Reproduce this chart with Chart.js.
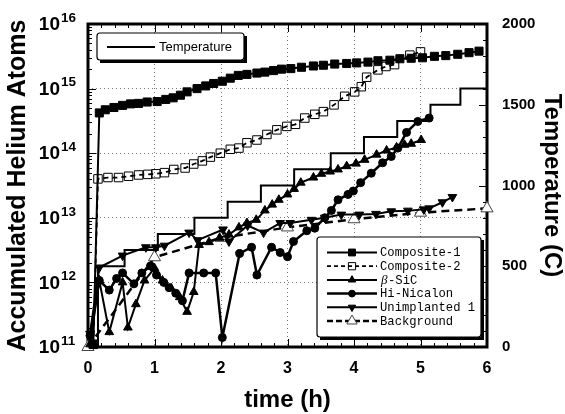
<!DOCTYPE html>
<html><head><meta charset="utf-8">
<script src="https://cdn.jsdelivr.net/npm/chart.js@4.4.0/dist/chart.umd.min.js"></script>
<style>html,body{margin:0;padding:0;background:#fff;}canvas{display:block;}</style>
</head><body>
<canvas id="c" width="565" height="414" style="width:565px;height:414px"></canvas>
<script>
// ---------- data ----------
const xTickValues = [0, 1, 2, 3, 4, 5, 6];
const leftTickValues = [1e11, 1e12, 1e13, 1e14, 1e15, 1e16];
const rightTickValues = [0, 500, 1000, 1500, 2000];

const tempTime = [0, 0.15, 0.55, 1.05, 1.6, 2.1, 2.6, 3.1, 3.65, 4.15, 4.65, 5.15, 5.6, 6.0];
const tempC    = [0, 500, 600, 700, 800, 900, 1000, 1100, 1200, 1300, 1400, 1500, 1600, 1600];

const c1Time = [0.08,0.17,0.26,0.39,0.52,0.64,0.76,0.89,1.04,1.17,1.28,1.39,1.49,1.64,1.77,1.89,2.02,2.14,2.26,2.39,2.54,2.66,2.79,2.91,3.05,3.21,3.39,3.54,3.71,3.89,4.04,4.21,4.36,4.54,4.69,4.86,5.03,5.21,5.38,5.56,5.73,5.88];
const c1Val  = [1.1e11,4.2e14,4.7e14,5.1e14,5.5e14,5.8e14,5.9e14,6.2e14,6.3e14,6.8e14,7.2e14,7.9e14,8.9e14,1.0e15,1.1e15,1.2e15,1.3e15,1.45e15,1.6e15,1.66e15,1.74e15,1.8e15,1.9e15,2.0e15,2.04e15,2.14e15,2.24e15,2.3e15,2.4e15,2.45e15,2.5e15,2.57e15,2.7e15,2.75e15,2.9e15,2.95e15,3.0e15,3.16e15,3.24e15,3.4e15,3.6e15,3.8e15];

const c2Time = [0.08,0.15,0.30,0.46,0.61,0.76,0.90,1.02,1.15,1.29,1.46,1.59,1.72,1.84,1.99,2.14,2.27,2.39,2.54,2.69,2.84,2.99,3.12,3.26,3.41,3.54,3.70,3.86,4.01,4.11,4.19,4.36,4.48,4.61,4.84,5.00];
const c2Val  = [1.1e11,4.0e13,4.2e13,4.2e13,4.4e13,4.6e13,4.7e13,4.8e13,5.0e13,5.6e13,5.9e13,6.8e13,7.6e13,8.7e13,1.0e14,1.15e14,1.2e14,1.45e14,1.6e14,1.95e14,2.3e14,2.6e14,2.8e14,3.5e14,4.0e14,4.4e14,5.6e14,7.6e14,8.9e14,1.07e15,1.5e15,1.95e15,2.2e15,2.35e15,3.3e15,3.7e15];

const sicTime = [0.03,0.17,0.32,0.52,0.60,0.72,0.85,1.0,1.12,1.25,1.38,1.49,1.59,1.67,1.82,1.98,2.12,2.27,2.39,2.53,2.66,2.77,2.87,3.0,3.1,3.2,3.39,3.51,3.64,3.76,3.89,4.03,4.16,4.34,4.49,4.64,4.76,4.86,5.01];
const sicVal  = [1.1e11,1.07e12,1.7e11,1.0e12,2.0e11,4.6e11,1.07e12,1.66e12,1.07e12,8.1e11,5.9e11,3.5e11,7.1e11,3.8e12,4.2e12,4.9e12,5.5e12,7.1e12,8.3e12,9.3e12,1.3e13,1.6e13,1.9e13,2.3e13,2.8e13,3.5e13,4.2e13,4.8e13,5.2e13,5.6e13,6.3e13,6.9e13,7.9e13,9.5e13,1.1e14,1.23e14,1.35e14,1.4e14,1.6e14];

const hnTime = [0.03,0.17,0.32,0.43,0.52,0.69,0.81,0.94,1.03,1.14,1.22,1.32,1.42,1.52,1.74,1.92,2.02,2.28,2.46,2.54,2.76,2.89,3.0,3.09,3.29,3.41,3.56,3.66,3.76,3.91,3.99,4.1,4.26,4.43,4.56,4.66,4.79,4.96,5.13];
const hnVal  = [1.5e11,1.07e12,7.6e11,1.15e12,1.4e12,9.5e11,1.4e12,1.8e12,1.3e12,1.0e12,8.3e11,6.8e11,5.2e11,1.4e12,1.4e12,1.4e12,1.4e11,2.8e12,3.5e12,1.3e12,3.5e12,2.9e12,2.5e12,4.3e12,6.3e12,6.9e12,1.0e13,1.3e13,1.9e13,2.3e13,2.6e13,3.5e13,4.9e13,7.1e13,8.9e13,1.2e14,2.1e14,3.1e14,3.5e14];

const unTime = [0.03,0.17,0.52,0.87,1.02,1.15,1.52,1.65,2.03,2.12,2.4,2.64,2.89,3.04,3.36,3.56,3.81,4.08,4.33,4.56,4.81,5.05,5.13,5.33,5.48];
const unVal  = [1.6e11,1.7e12,2.6e12,3.5e12,3.5e12,3.7e12,5.9e12,4.5e12,6.6e12,4.3e12,7.6e12,5.9e12,8.3e12,8.3e12,9.3e12,1.0e13,1.12e13,1.12e13,1.15e13,1.26e13,1.29e13,1.35e13,1.4e13,1.74e13,2.1e13];

const bgTime = [0, 1, 2, 3, 4, 5, 6];
const bgVal  = [1e11, 2.45e12, 4.9e12, 7.1e12, 9.5e12, 1.2e13, 1.4e13];

// ---------- chart ----------
const xy = (ts, vs) => ts.map((t, i) => ({x: t, y: vs[i]}));
const SANS = '"Liberation Sans", Arial, sans-serif';
const MONO = '"Liberation Mono", "DejaVu Sans Mono", monospace';

function series(label, ts, vs, o) {
  return Object.assign({
    label, data: xy(ts, vs), yAxisID: 'y', borderColor: '#000', borderWidth: 2,
    pointBorderColor: '#000', pointBackgroundColor: '#000', pointBorderWidth: 1,
    pointRotation: 0, fill: false, tension: 0, clip: false
  }, o);
}

const datasets = [
  series('Composite-1', c1Time, c1Val, {pointStyle: 'rect', pointRadius: 5.7}),
  series('Composite-2', c2Time, c2Val, {pointStyle: 'rect', pointRadius: 6, borderDash: [5, 4], borderWidth: 1.8,
    pointBackgroundColor: 'rgba(0,0,0,0)', pointBorderWidth: 1}),
  series('β-SiC', sicTime, sicVal, {pointStyle: 'triangle', pointRadius: 5}),
  series('Hi-Nicalon', hnTime, hnVal, {pointStyle: 'circle', pointRadius: 4, borderWidth: 2.5}),
  series('Unimplanted 1', unTime, unVal, {pointStyle: 'triangle', pointRadius: 5, pointRotation: 180}),
  series('Background', bgTime, bgVal, {pointStyle: 'triangle', pointRadius: 7, borderDash: [8, 5], borderWidth: 2.5,
    pointBackgroundColor: '#fff', pointBorderColor: '#444', pointBorderWidth: 1}),
  {label: 'Temperature', data: xy(tempTime, tempC), yAxisID: 'y2', borderColor: '#000', borderWidth: 2,
    pointRadius: 0, stepped: 'before', fill: false, clip: false}
];

function boxShadow(ctx, x1, y1, x2, y2) {
  ctx.fillStyle = '#fff';
  ctx.fillRect(x1, y1, x2 - x1, y2 - y1);
  ctx.fillStyle = '#000';
  ctx.fillRect(x2, y1 + 3, 3, y2 - y1);
  ctx.fillRect(x1 + 3, y2, x2 - x1, 3);
  ctx.strokeStyle = '#000';
  ctx.lineWidth = 1.2;
  ctx.beginPath();
  if (ctx.roundRect) ctx.roundRect(x1, y1, x2 - x1, y2 - y1, 3); else ctx.rect(x1, y1, x2 - x1, y2 - y1);
  ctx.stroke();
}

const decor = {
  id: 'decor',
  beforeDatasetsDraw(chart) {
    const {ctx, chartArea: a, scales} = chart;
    ctx.save();
    ctx.strokeStyle = '#000';
    ctx.lineWidth = 1;
    ctx.beginPath();
    for (let d = 11; d < 16; d++) for (let k = 1; k <= 9; k++) {
      const y = Math.round(scales.y.getPixelForValue(k * Math.pow(10, d))) + 0.5;
      const len = k === 1 ? 8 : 4;
      ctx.moveTo(a.left, y); ctx.lineTo(a.left + len, y);
    }
    for (let v = 100; v < 2000; v += 100) {
      const y = Math.round(scales.y2.getPixelForValue(v)) + 0.5;
      const len = v % 500 === 0 ? 8 : 4;
      ctx.moveTo(a.right, y); ctx.lineTo(a.right - len, y);
    }
    for (let i = 1; i < 30; i++) {
      const x = Math.round(scales.x.getPixelForValue(i * 0.2)) + 0.5;
      const len = i % 5 === 0 ? 8 : 4;
      ctx.moveTo(x, a.bottom); ctx.lineTo(x, a.bottom - len);
      ctx.moveTo(x, a.top); ctx.lineTo(x, a.top + len);
    }
    ctx.stroke();
    ctx.lineWidth = 3;
    ctx.strokeRect(a.left, a.top, a.right - a.left, a.bottom - a.top);
    ctx.restore();
  },
  afterDatasetsDraw(chart) {
    const {ctx} = chart;
    ctx.save();
    // Temperature legend
    boxShadow(ctx, 97, 33, 244, 60);
    const t = chart.data.datasets.find(d => d.yAxisID === 'y2');
    ctx.strokeStyle = '#000'; ctx.lineWidth = t.borderWidth;
    ctx.beginPath(); ctx.moveTo(107, 47); ctx.lineTo(155, 47); ctx.stroke();
    ctx.fillStyle = '#000';
    ctx.font = '13px "Liberation Sans Narrow", ' + SANS;
    ctx.textAlign = 'left'; ctx.textBaseline = 'middle';
    ctx.fillText(t.label, 159, 47.5);

    // sample legend
    boxShadow(ctx, 317, 237, 481, 337);
    const ents = chart.data.datasets.filter(d => d.yAxisID === 'y');
    ents.forEach((d, i) => {
      const y = 252.5 + i * 13.7;
      ctx.save();
      ctx.strokeStyle = '#000';
      ctx.lineWidth = d.borderWidth;
      ctx.setLineDash(d.borderDash ? [4, 3] : []);
      if (d.label === 'Background') ctx.setLineDash([6, 3]);
      ctx.beginPath(); ctx.moveTo(327, y); ctx.lineTo(377, y); ctx.stroke();
      ctx.setLineDash([]);
      ctx.fillStyle = d.pointBackgroundColor;
      ctx.strokeStyle = d.pointBorderColor;
      ctx.lineWidth = d.pointBorderWidth;
      Chart.helpers.drawPoint(ctx, {pointStyle: d.pointStyle, radius: d.pointRadius * 0.85,
        rotation: d.pointRotation || 0, borderWidth: d.pointBorderWidth}, 352, y);
      ctx.restore();
      ctx.fillStyle = '#000';
      ctx.textAlign = 'left'; ctx.textBaseline = 'middle';
      if (d.label.startsWith('β')) {
        ctx.font = 'italic 13px "Liberation Serif", serif';
        ctx.fillText('β', 381, y + 0.5);
        ctx.font = '12.2px ' + MONO;
        ctx.fillText(d.label.slice(1), 388, y + 0.5);
      } else {
        ctx.font = '12.2px ' + MONO;
        ctx.fillText(d.label, 380, y + 0.5);
      }
    });
    ctx.restore();
  },
  afterDraw(chart) {
    const {ctx, scales} = chart;
    const s = scales.y;
    ctx.save();
    ctx.fillStyle = '#000';
    s.ticks.forEach(tk => {
      const y = s.getPixelForValue(tk.value);
      const e = Math.round(Math.log10(tk.value));
      ctx.font = 'bold 19px ' + SANS;
      ctx.textAlign = 'right'; ctx.textBaseline = 'middle';
      ctx.fillText('10', 60, y + 1);
      ctx.font = 'bold 13.5px ' + SANS;
      ctx.textAlign = 'left';
      ctx.fillText(String(e), 61, y - 6);
    });
    ctx.restore();
  }
};

const gridColor = (lo, hi) => c => (c.tick && (c.tick.value === lo || c.tick.value === hi)) ? 'rgba(0,0,0,0)' : '#777';

new Chart(document.getElementById('c'), {
  type: 'line',
  data: {datasets},
  options: {
    responsive: false, animation: false, devicePixelRatio: 1,
    layout: {padding: {top: 23, left: 0, right: 0, bottom: 0}},
    plugins: {legend: {display: false}, tooltip: {enabled: false}},
    scales: {
      x: {
        type: 'linear', min: 0, max: 6,
        afterBuildTicks: s => { s.ticks = xTickValues.map(v => ({value: v})); },
        afterFit: s => { s.height = 67; },
        ticks: {color: '#000', padding: 12, font: {family: SANS, size: 16, weight: 'bold'}, callback: v => String(v)},
        grid: {color: gridColor(0, 6), lineWidth: 1, drawTicks: false},
        border: {display: false, dash: [1, 3]},
        title: {display: true, text: 'time (h)', color: '#000', padding: {top: 0, bottom: 2},
          font: {family: SANS, size: 24, weight: 'bold', lineHeight: 1}}
      },
      y: {
        type: 'logarithmic', position: 'left', min: 1e11, max: 1e16,
        afterBuildTicks: s => { s.ticks = leftTickValues.map(v => ({value: v})); },
        afterFit: s => { s.width = 88; },
        ticks: {display: false},
        grid: {color: gridColor(1e11, 1e16), lineWidth: 1, drawTicks: false},
        border: {display: false, dash: [1, 3]},
        title: {display: true, text: 'Accumulated Helium Atoms', color: '#000', padding: {top: 6, bottom: 0},
          font: {family: SANS, size: 25, weight: 'bold', lineHeight: 1}}
      },
      y2: {
        type: 'linear', position: 'right', min: 0, max: 2000,
        afterBuildTicks: s => { s.ticks = rightTickValues.map(v => ({value: v})); },
        afterFit: s => { s.width = 78; },
        ticks: {color: '#000', padding: 15, font: {family: SANS, size: 15, weight: 'bold'}, callback: v => String(v)},
        grid: {display: false, drawTicks: false},
        border: {display: false},
        title: {display: true, text: 'Temperature (C)', color: '#000', padding: {top: 1, bottom: 0},
          font: {family: SANS, size: 24, weight: 'bold', lineHeight: 1}}
      }
    }
  },
  plugins: [decor]
});
</script>
</body></html>
